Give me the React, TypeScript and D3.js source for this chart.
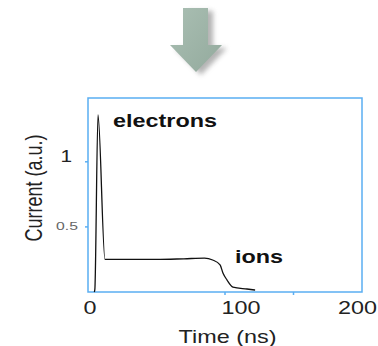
import React from 'react';
import * as d3 from 'd3';

// signal: time (ns) and current (a.u.)
const times = [4.6, 5, 7.3, 12.4, 30, 50, 70, 85, 91, 96.4, 98.5, 101.5, 105.8, 116, 122];
const current = [0, 0.02, 1.36, 0.25, 0.25, 0.25, 0.255, 0.26, 0.246, 0.208, 0.146, 0.092, 0.038, 0.023, 0.015];

const xTickLabels = ['0', '100', '200'];
const xMinorTicks = [100, 150];
const yTicks = [0.5, 1];

export default function App() {
  const width = 378;
  const height = 346;
  const box = { left: 88, right: 362, top: 98, bottom: 292 };

  const x = d3.scaleLinear().domain([0, 200]).range([box.left, box.right]);
  const y = d3.scaleLinear().domain([0, 1.49]).range([box.bottom, box.top]);

  const pts: [number, number][] = times.map((t, i) => [t, current[i]]);
  const line = d3.line<[number, number]>()
    .x(d => x(d[0]))
    .y(d => y(d[1]))
    .curve(d3.curveMonotoneX);

  const font = 'Liberation Sans, Arial, Helvetica, sans-serif';
  const blue = '#5aaef2';
  const sx = 1.3; // the original image is stretched sideways

  // tick label centres as they sit in the picture
  const xLabelPos = [90, 241, 357.5];

  // arrow shape
  const ax = 196;
  const arrow = [
    [ax - 13, 8], [ax + 12, 8], [ax + 12, 45], [ax + 26, 45],
    [ax, 72], [ax - 26, 45], [ax - 13, 45],
  ];

  const txt = (px: number, py: number) => `translate(${px},${py}) scale(${sx},1)`;

  return (
    <svg width={width} height={height} style={{ position: 'absolute', left: 0, top: 0, background: '#fff' }}>
      <defs>
        <linearGradient id="ag" x1="0" x2="1" y1="0" y2="1">
          <stop offset="0" stopColor="#aabfb3" />
          <stop offset="1" stopColor="#93aa9d" />
        </linearGradient>
        <filter id="sh" x="-50%" y="-50%" width="200%" height="200%">
          <feGaussianBlur stdDeviation="2.5" />
        </filter>
      </defs>

      <polygon points={arrow.map(p => `${p[0] + 5},${p[1] + 3}`).join(' ')} fill="#777" opacity={0.55} filter="url(#sh)" />
      <polygon points={arrow.map(p => p.join(',')).join(' ')} fill="url(#ag)" />

      <rect x={box.left} y={box.top} width={box.right - box.left} height={box.bottom - box.top}
        fill="none" stroke={blue} strokeWidth={1.5} />

      {yTicks.map(v => (
        <line key={'yt' + v} x1={box.left - 3} x2={box.left} y1={y(v)} y2={y(v)} stroke={blue} strokeWidth={1.5} />
      ))}
      {xMinorTicks.map(v => (
        <line key={'xt' + v} x1={x(v)} x2={x(v)} y1={box.bottom} y2={box.bottom + 3} stroke={blue} strokeWidth={1.5} />
      ))}

      <path d={line(pts) || ''} fill="none" stroke="#111" strokeWidth={1.3} strokeLinejoin="round" />

      <text transform={txt(72, y(1))} fontFamily={font} fontSize={16} textAnchor="end" fill="#222">1</text>
      <text transform={`translate(78,${y(0.5) + 3}) scale(1.5,1)`} fontFamily={font} fontSize={10.5} textAnchor="end" fill="#666">0.5</text>

      {xTickLabels.map((v, i) => (
        <text key={'xl' + v} transform={txt(xLabelPos[i], 314)}
          fontFamily={font} fontSize={18} textAnchor="middle" fill="#222">{v}</text>
      ))}

      <text transform={txt(227.5, 343)} fontFamily={font} fontSize={18} textAnchor="middle" fill="#222">Time (ns)</text>
      <text transform={`translate(42,188) scale(${sx},1) rotate(-90)`} fontFamily={font} fontSize={18} textAnchor="middle" fill="#222">Current (a.u.)</text>

      <text transform={txt(113, 127)} fontFamily={font} fontSize={18} fontWeight="bold" fill="#111">electrons</text>
      <text transform={txt(235, 263)} fontFamily={font} fontSize={18} fontWeight="bold" fill="#111">ions</text>
    </svg>
  );
}
